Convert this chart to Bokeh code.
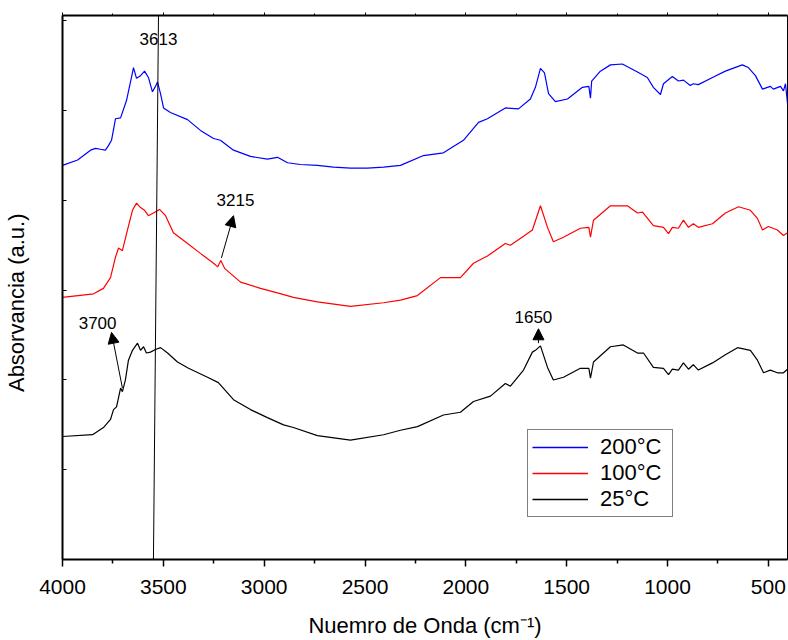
from bokeh.plotting import figure
from bokeh.models import (Range1d, LinearAxis, FixedTicker, Arrow, NormalHead,
                          Label, Legend, LegendItem)
from bokeh.embed import file_html
from bokeh.resources import INLINE

FONT = "Liberation Sans"
BLANK = "\u00a0"

# FTIR spectra: wavenumber (cm-1) and stacked absorbance (a.u.)
wn_200 = [4000, 3925, 3861, 3836, 3812, 3787, 3772, 3757, 3737, 3712, 3683, 3658, 3648, 3633, 3613,
          3593, 3574, 3554, 3539, 3529, 3514, 3499, 3465, 3380, 3316, 3251, 3217, 3152, 3068, 2984,
          2934, 2884, 2820, 2736, 2656, 2572, 2488, 2408, 2324, 2210, 2111, 2012, 1937, 1893, 1804,
          1739, 1680, 1655, 1630, 1610, 1590, 1556, 1496, 1422, 1390, 1382, 1376, 1333, 1283, 1224,
          1149, 1100, 1070, 1035, 1020, 976, 946, 921, 887, 872, 847, 777, 713, 629, 599,
          564, 529, 490, 475, 440, 425, 415, 405]
abs_200 = [4.39, 4.45, 4.56, 4.58, 4.57, 4.56, 4.61, 4.67, 4.91, 4.92, 5.11, 5.37, 5.48, 5.36, 5.39,
           5.44, 5.37, 5.21, 5.27, 5.32, 5.19, 5.03, 4.98, 4.90, 4.78, 4.69, 4.67, 4.56, 4.49, 4.46,
           4.48, 4.42, 4.40, 4.39, 4.37, 4.36, 4.36, 4.37, 4.39, 4.50, 4.53, 4.67, 4.87, 4.91, 5.03,
           5.02, 5.13, 5.26, 5.47, 5.42, 5.19, 5.10, 5.13, 5.26, 5.27, 5.14, 5.33, 5.44, 5.51, 5.52,
           5.43, 5.37, 5.26, 5.18, 5.30, 5.38, 5.33, 5.34, 5.28, 5.30, 5.29, 5.37, 5.44, 5.51, 5.48,
           5.39, 5.24, 5.27, 5.24, 5.27, 5.22, 5.30, 5.08]

wn_100 = [4000, 3846, 3797, 3762, 3737, 3722, 3703, 3678, 3653, 3633, 3613, 3593, 3574, 3549, 3519,
          3489, 3450, 3380, 3316, 3251, 3230, 3215, 3195, 3117, 3018, 2934, 2855, 2736, 2572, 2408,
          2324, 2240, 2126, 2027, 1962, 1893, 1804, 1779, 1714, 1670, 1630, 1595, 1566, 1516, 1432,
          1390, 1382, 1367, 1283, 1199, 1149, 1124, 1070, 1020, 995, 976, 946, 921, 896, 872,
          847, 777, 713, 648, 589, 554, 529, 500, 455, 425, 405]
abs_100 = [2.92, 2.96, 3.02, 3.14, 3.37, 3.47, 3.44, 3.67, 3.89, 3.97, 3.92, 3.89, 3.83, 3.86, 3.90,
           3.83, 3.64, 3.52, 3.41, 3.30, 3.26, 3.33, 3.24, 3.09, 3.02, 2.97, 2.92, 2.87, 2.82, 2.86,
           2.89, 2.94, 3.14, 3.14, 3.30, 3.38, 3.52, 3.50, 3.60, 3.67, 3.94, 3.70, 3.54, 3.59, 3.69,
           3.70, 3.59, 3.78, 3.94, 3.94, 3.86, 3.87, 3.72, 3.70, 3.63, 3.70, 3.69, 3.78, 3.70, 3.74,
           3.70, 3.74, 3.86, 3.93, 3.89, 3.80, 3.67, 3.71, 3.67, 3.61, 3.64]

wn_25 = [4000, 3851, 3797, 3762, 3747, 3732, 3712, 3703, 3688, 3673, 3653, 3628, 3613, 3598, 3584,
         3564, 3539, 3514, 3479, 3430, 3375, 3281, 3227, 3152, 3068, 2984, 2904, 2855, 2736, 2572,
         2408, 2324, 2240, 2111, 2027, 1962, 1878, 1804, 1779, 1714, 1670, 1655, 1630, 1595, 1566,
         1516, 1432, 1390, 1382, 1367, 1283, 1219, 1149, 1119, 1070, 1020, 995, 976, 946, 921,
         896, 872, 847, 777, 713, 653, 589, 554, 524, 490, 455, 425, 405]
abs_25 = [1.37, 1.39, 1.47, 1.56, 1.67, 1.70, 1.91, 1.87, 2.00, 2.22, 2.33, 2.41, 2.33, 2.37, 2.30,
          2.31, 2.34, 2.36, 2.30, 2.20, 2.13, 2.03, 1.97, 1.78, 1.67, 1.58, 1.50, 1.47, 1.38, 1.33,
          1.39, 1.44, 1.48, 1.61, 1.64, 1.76, 1.82, 1.96, 1.93, 2.11, 2.31, 2.33, 2.38, 2.14, 2.00,
          2.03, 2.13, 2.13, 2.02, 2.20, 2.37, 2.39, 2.30, 2.30, 2.14, 2.13, 2.06, 2.12, 2.11, 2.19,
          2.12, 2.17, 2.11, 2.19, 2.28, 2.36, 2.33, 2.22, 2.08, 2.11, 2.08, 2.08, 2.12]

series_labels = ["200°C", "100°C", "25°C"]
series_colors = ["#0000ff", "#ff0000", "#000000"]

# Reference line through the 3613 band
guide_wn = [3549, 3524]
guide_abs = [0.0, 6.06]

# Band annotations: label text, label position, arrow tail -> head
band_text = ["3613", "3215", "3700", "1650"]
band_label_wn = [3524, 3142, 3826, 1665]
band_label_abs = [5.80, 4.00, 2.63, 2.70]
arrow_from_wn = [None, 3212, 3703, 1640]
arrow_from_abs = [None, 3.36, 1.91, 2.41]
arrow_to_wn = [None, 3152, 3757, 1640]
arrow_to_abs = [None, 3.83, 2.53, 2.57]

x_major = [4000, 3500, 3000, 2500, 2000, 1500, 1000, 500]
x_minor = [3750, 3250, 2750, 2250, 1750, 1250, 750]
y_ticks = [0, 1, 2, 3, 4, 5, 6]

p = figure(width=788, height=640, output_backend="svg", toolbar_location=None,
           x_range=Range1d(4000, 405), y_range=Range1d(0, 6.06),
           min_border_left=62, min_border_right=1, min_border_top=15, min_border_bottom=80)
p.xgrid.visible = False
p.ygrid.visible = False
p.outline_line_color = "black"
p.outline_line_width = 1

xa = p.xaxis[0]
xa.ticker = FixedTicker(ticks=x_major, minor_ticks=x_minor)
xa.axis_line_width = 2
xa.major_tick_out = 7
xa.major_tick_in = 0
xa.minor_tick_out = 4
xa.minor_tick_in = 0
xa.major_tick_line_width = 1.5
xa.minor_tick_line_width = 1.5
xa.major_label_text_font = FONT
xa.major_label_text_font_size = "21px"
xa.major_label_text_color = "black"
xa.major_label_standoff = 13
xa.axis_label = "Nuemro de Onda (cm⁻¹)"
xa.axis_label_text_font = FONT
xa.axis_label_text_font_size = "22px"
xa.axis_label_text_color = "black"
xa.axis_label_text_font_style = "normal"
xa.axis_label_standoff = 16

ya = p.yaxis[0]
ya.ticker = FixedTicker(ticks=y_ticks, minor_ticks=[])
ya.axis_line_width = 2
ya.major_tick_in = 4
ya.major_tick_out = 0
ya.minor_tick_in = 0
ya.minor_tick_out = 0
ya.major_label_overrides = {t: BLANK for t in y_ticks}
ya.major_label_text_font_size = "8px"
ya.major_label_standoff = 0
# trailing no-break spaces nudge the rotated title below the frame's middle
ya.axis_label = "Absorvancia (a.u.)" + BLANK * 5
ya.axis_label_text_font = FONT
ya.axis_label_text_font_size = "22px"
ya.axis_label_text_color = "black"
ya.axis_label_text_font_style = "normal"
ya.axis_label_standoff = 28

top = LinearAxis(ticker=FixedTicker(ticks=x_major, minor_ticks=x_minor),
                 axis_line_width=2, major_tick_out=3, major_tick_in=0,
                 minor_tick_out=2, minor_tick_in=0,
                 major_label_overrides={t: BLANK for t in x_major},
                 major_label_text_font_size="8px", major_label_standoff=0)
p.add_layout(top, "above")

for wn, ab, col in [(wn_200, abs_200, series_colors[0]),
                    (wn_100, abs_100, series_colors[1]),
                    (wn_25, abs_25, series_colors[2])]:
    p.line(wn, ab, line_color=col, line_width=1.2)

p.line(guide_wn, guide_abs, line_color="black", line_width=1)

# Legend swatches: empty multi-line renderers carrying each series' colour
swatches = [p.multi_line(xs=[[]], ys=[[]], line_color=col, line_width=1.5)
            for col in series_colors]

for i, txt in enumerate(band_text):
    p.add_layout(Label(x=band_label_wn[i], y=band_label_abs[i], text=txt,
                       text_align="center", text_baseline="middle",
                       text_font=FONT, text_font_size="17px", text_color="black"))
    if arrow_from_wn[i] is not None:
        p.add_layout(Arrow(end=NormalHead(size=11, fill_color="black", line_color="black"),
                           x_start=arrow_from_wn[i], y_start=arrow_from_abs[i],
                           x_end=arrow_to_wn[i], y_end=arrow_to_abs[i],
                           line_color="black", line_width=1))

legend = Legend(items=[LegendItem(label=lab, renderers=[r])
                       for lab, r in zip(series_labels, swatches)],
                location=(465, 42), margin=0, padding=4, spacing=0,
                glyph_width=56, glyph_height=20, label_standoff=12, label_width=68,
                label_text_font=FONT, label_text_font_size="22px", label_text_color="black",
                border_line_color="black", border_line_width=1,
                background_fill_color="white", background_fill_alpha=1)
p.add_layout(legend)

open("out.html", "w").write(file_html(p, INLINE))
